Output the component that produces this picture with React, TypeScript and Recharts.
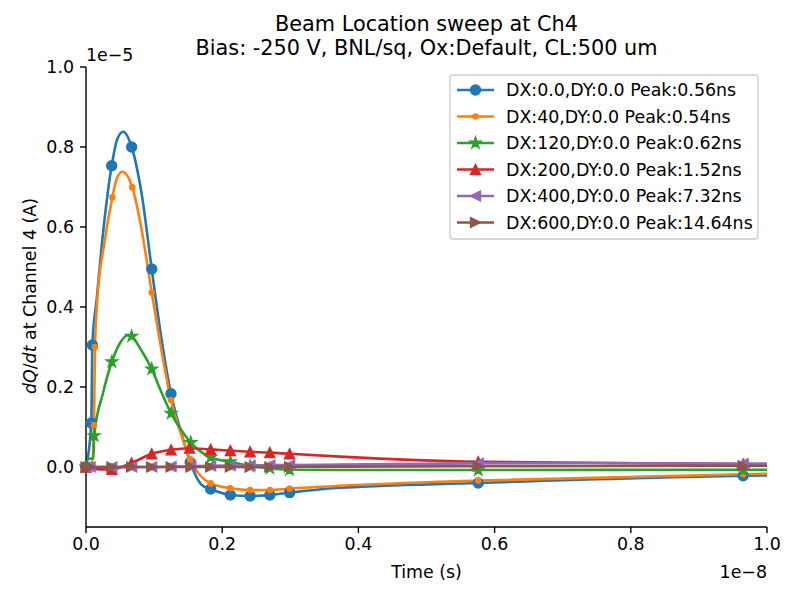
import React from 'react'
import { LineChart, Line, XAxis, YAxis } from 'recharts'

// [time (ns), dQ/dt (µA), 1 = marker drawn at this sample]
type Pt = [number, number, number]

const dx0: Pt[] = [
  [0, 0, 1], [0.078, 1.1, 1], [0.093, 3.05, 1], [0.157, 4.2, 0], [0.26, 6.0, 0],
  [0.377, 7.53, 1], [0.46, 8.2, 0], [0.548, 8.38, 0], [0.67, 8.0, 1], [0.82, 6.8, 0],
  [0.965, 4.95, 1], [1.1, 3.3, 0], [1.248, 1.83, 1], [1.4, 0.85, 0], [1.53, 0.12, 1],
  [1.7, -0.45, 0], [1.83, -0.55, 1], [2.12, -0.7, 1], [2.41, -0.725, 1], [2.7, -0.7, 1],
  [2.99, -0.64, 1], [3.73, -0.52, 0], [5.76, -0.4, 1], [9.65, -0.22, 1], [10, -0.21, 0],
]

const dx40: Pt[] = [
  [0, 0, 1], [0.085, 0.05, 0], [0.117, 1.05, 1], [0.132, 3.0, 1], [0.166, 4.18, 0],
  [0.27, 5.6, 0], [0.387, 6.74, 1], [0.45, 7.2, 0], [0.533, 7.38, 0], [0.68, 6.99, 1],
  [0.82, 5.9, 0], [0.965, 4.36, 1], [1.1, 3.0, 0], [1.248, 1.675, 1], [1.4, 0.8, 0],
  [1.53, 0.19, 1], [1.83, -0.41, 1], [2.12, -0.53, 1], [2.41, -0.575, 1], [2.7, -0.575, 1],
  [2.99, -0.54, 1], [3.73, -0.47, 0], [5.76, -0.34, 1], [9.65, -0.18, 1], [10, -0.17, 0],
]

const dx120: Pt[] = [
  [0, 0, 1], [0.015, 0.2, 0], [0.11, 0.22, 0], [0.12, 0.78, 1], [0.25, 1.85, 0],
  [0.38, 2.63, 1], [0.5, 3.1, 0], [0.62, 3.3, 0], [0.67, 3.27, 1], [0.8, 2.95, 0],
  [0.965, 2.45, 1], [1.1, 1.9, 0], [1.25, 1.34, 1], [1.4, 0.92, 0], [1.54, 0.61, 1],
  [1.83, 0.24, 1], [2.12, 0.13, 1], [2.41, 0.02, 1], [2.7, -0.03, 1], [2.99, -0.07, 1],
  [3.73, -0.075, 0], [5.76, -0.075, 1], [9.65, -0.07, 1], [10, -0.07, 0],
]

const dx200: Pt[] = [
  [0, 0, 1], [0.2, -0.06, 0], [0.38, -0.06, 1], [0.67, 0.1, 1], [0.965, 0.33, 1],
  [1.25, 0.43, 1], [1.52, 0.47, 1], [1.83, 0.44, 1], [2.12, 0.41, 1], [2.41, 0.38, 1],
  [2.7, 0.36, 1], [2.99, 0.33, 1], [3.73, 0.26, 0], [5.76, 0.13, 1], [9.65, 0.07, 1],
  [10, 0.07, 0],
]

const dx400: Pt[] = [
  [0, 0, 1], [0.06, 0, 1], [0.38, 0, 1], [0.67, 0, 1], [0.965, 0, 1],
  [1.25, 0.01, 1], [1.54, 0.02, 1], [1.83, 0.03, 1], [2.12, 0.035, 1], [2.41, 0.04, 1],
  [2.7, 0.045, 1], [2.99, 0.05, 1], [3.73, 0.06, 0], [5.76, 0.09, 1], [7.32, 0.1, 0],
  [9.65, 0.085, 1], [10, 0.085, 0],
]

const dx600: Pt[] = [
  [0, 0, 1], [0.06, 0, 1], [0.38, 0, 1], [0.67, 0, 1], [0.965, 0, 1],
  [1.25, 0, 1], [1.54, 0, 1], [1.83, 0, 1], [2.12, 0, 1], [2.41, 0, 1],
  [2.7, 0, 1], [2.99, 0.005, 1], [3.73, 0.01, 0], [5.76, 0.02, 1], [9.65, 0.03, 1],
  [10, 0.03, 0],
]

const xTicks = [0, 2e-9, 4e-9, 6e-9, 8e-9, 1e-8]
const yTicks = [0, 2e-6, 4e-6, 6e-6, 8e-6, 1e-5]

const NS = 1e-9
const UA = 1e-6

type Shape = 'circle' | 'point' | 'star' | 'up' | 'left' | 'right'

interface SeriesDef {
  name: string
  color: string
  shape: Shape
  points: Pt[]
}

const seriesList: SeriesDef[] = [
  { name: 'DX:0.0,DY:0.0 Peak:0.56ns', color: '#1f77b4', shape: 'circle', points: dx0 },
  { name: 'DX:40,DY:0.0 Peak:0.54ns', color: '#ff7f0e', shape: 'point', points: dx40 },
  { name: 'DX:120,DY:0.0 Peak:0.62ns', color: '#2ca02c', shape: 'star', points: dx120 },
  { name: 'DX:200,DY:0.0 Peak:1.52ns', color: '#d62728', shape: 'up', points: dx200 },
  { name: 'DX:400,DY:0.0 Peak:7.32ns', color: '#9467bd', shape: 'left', points: dx400 },
  { name: 'DX:600,DY:0.0 Peak:14.64ns', color: '#8c564b', shape: 'right', points: dx600 },
]

const FONT = 'DejaVu Sans, sans-serif'
const FS = 17.4
const LW = 2.6
const AX = { stroke: '#000', strokeWidth: 1.4 }

function starPoints(cx: number, cy: number, r: number) {
  const pts: string[] = []
  for (let i = 0; i < 10; i++) {
    const rad = i % 2 === 0 ? r : r * 0.382
    const a = -Math.PI / 2 + (i * Math.PI) / 5
    pts.push(`${cx + rad * Math.cos(a)},${cy + rad * Math.sin(a)}`)
  }
  return pts.join(' ')
}

function Marker({ shape, cx, cy, color }: { shape: Shape; cx: number; cy: number; color: string }) {
  const h = 4.9
  switch (shape) {
    case 'circle':
      return <circle cx={cx} cy={cy} r={5.0} fill={color} stroke={color} strokeWidth={1.4} />
    case 'point':
      return <circle cx={cx} cy={cy} r={2.6} fill={color} stroke={color} strokeWidth={1.4} />
    case 'star':
      return <polygon points={starPoints(cx, cy, 6)} fill={color} stroke={color} strokeWidth={1.4} />
    case 'up':
      return <polygon points={`${cx},${cy - h} ${cx - h},${cy + h} ${cx + h},${cy + h}`} fill={color} stroke={color} strokeWidth={1.5} />
    case 'left':
      return <polygon points={`${cx - h},${cy} ${cx + h},${cy - h} ${cx + h},${cy + h}`} fill={color} stroke={color} strokeWidth={1.5} />
    case 'right':
      return <polygon points={`${cx + h},${cy} ${cx - h},${cy - h} ${cx - h},${cy + h}`} fill={color} stroke={color} strokeWidth={1.5} />
  }
  return null
}

const tickStyle = { fill: '#000', fontSize: FS, fontFamily: FONT }

export default function App() {
  const legendTop = 90
  const legendStep = 26.5

  return (
    <div style={{ position: 'absolute', left: 0, top: 0, width: 800, height: 600, background: '#fff' }}>
      <LineChart width={800} height={600} margin={{ top: 67, right: 33, bottom: 43, left: 26 }}>
        <XAxis
          dataKey="t"
          type="number"
          domain={[0, 1e-8]}
          ticks={xTicks}
          tickFormatter={(v: number) => (v * 1e8).toFixed(1)}
          height={30}
          tickSize={6}
          tickMargin={5}
          tick={tickStyle}
          axisLine={AX}
          tickLine={AX}
        />
        <XAxis
          xAxisId="top"
          orientation="top"
          type="number"
          domain={[0, 1e-8]}
          height={0}
          tick={false}
          tickLine={false}
          axisLine={AX}
        />
        <YAxis
          type="number"
          domain={[-1.5e-6, 1e-5]}
          ticks={yTicks}
          tickFormatter={(v: number) => (v * 1e5).toFixed(1)}
          width={60}
          tickSize={6}
          tickMargin={6}
          tick={tickStyle}
          axisLine={AX}
          tickLine={AX}
        />
        <YAxis
          yAxisId="right"
          orientation="right"
          type="number"
          domain={[-1.5e-6, 1e-5]}
          width={0}
          tick={false}
          tickLine={false}
          axisLine={AX}
        />
        {seriesList.map((s) => (
          <Line
            key={s.name}
            data={s.points.map(([t, v, m]) => ({ t: t * NS, v: v * UA, m }))}
            dataKey="v"
            type="monotone"
            stroke={s.color}
            strokeWidth={LW}
            isAnimationActive={false}
            activeDot={false}
            dot={(p: any) =>
              p.payload && p.payload.m ? (
                <Marker key={`${s.name}-${p.index}`} shape={s.shape} cx={p.cx} cy={p.cy} color={s.color} />
              ) : (
                <g key={`${s.name}-${p.index}`} />
              )
            }
          />
        ))}
      </LineChart>

      <svg
        width={800}
        height={600}
        style={{ position: 'absolute', left: 0, top: 0, pointerEvents: 'none' }}
        fontFamily={FONT}
      >
        <text x={426.5} y={31} textAnchor="middle" fontSize={20.8} fill="#000">
          Beam Location sweep at Ch4
        </text>
        <text x={426.5} y={55} textAnchor="middle" fontSize={20.8} fill="#000">
          Bias: -250 V, BNL/sq, Ox:Default, CL:500 um
        </text>
        <text x={86} y={61} fontSize={FS} fill="#000">1e−5</text>
        <text x={767} y={578} textAnchor="end" fontSize={FS} fill="#000">1e−8</text>
        <text x={426.5} y={578} textAnchor="middle" fontSize={FS} fill="#000">Time (s)</text>
        <text x={36} y={296} textAnchor="middle" fontSize={FS} fill="#000" transform="rotate(-90 36 296)">
          <tspan fontStyle="italic">dQ</tspan>/<tspan fontStyle="italic">dt</tspan> at Channel 4 (A)
        </text>

        <rect x={450} y={75} width={308} height={164} rx={3} fill="#fff" fillOpacity={0.8} stroke="#cccccc" strokeWidth={1.3} />
        {seriesList.map((s, i) => {
          const y = legendTop + i * legendStep
          return (
            <g key={s.name}>
              <line x1={457} y1={y} x2={494} y2={y} stroke={s.color} strokeWidth={LW} />
              <Marker shape={s.shape} cx={475.5} cy={y} color={s.color} />
              <text x={506} y={y + 6} fontSize={FS} fill="#000">{s.name}</text>
            </g>
          )
        })}
      </svg>
    </div>
  )
}
